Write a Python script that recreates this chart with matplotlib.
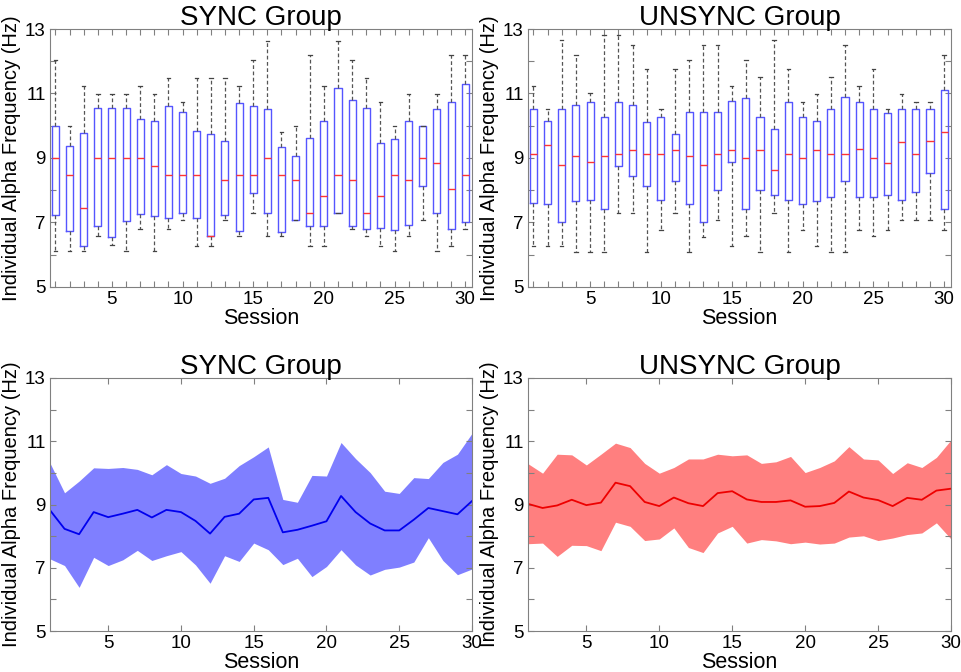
import matplotlib
matplotlib.use('Agg')
import matplotlib.pyplot as plt
import numpy as np

plt.rcParams['font.family'] = ['Liberation Sans', 'DejaVu Sans']

sessions = np.arange(1, 31)

# SYNC group box statistics
sync_whislo = [6.11, 6.11, 6.11, 6.57, 6.29, 6.11, 6.79, 6.11, 6.79, 7.08,
               6.28, 6.28, 7.08, 6.57, 7.31, 6.59, 6.59, 7.08, 6.28, 6.28,
               7.30, 6.81, 6.59, 6.28, 6.11, 6.59, 7.08, 6.11, 6.28, 6.79]
sync_q1 = [7.22, 6.74, 6.28, 6.88, 6.54, 7.04, 7.27, 7.20, 7.13, 7.29,
           7.13, 6.57, 7.22, 6.75, 7.93, 7.30, 6.71, 7.08, 6.88, 6.88,
           7.30, 6.88, 6.79, 6.83, 6.76, 6.92, 8.13, 7.30, 6.79, 7.01]
sync_med = [9.00, 8.47, 7.44, 9.00, 9.00, 9.00, 9.00, 8.76, 8.47, 8.47,
            8.47, 6.57, 8.31, 8.47, 8.47, 9.00, 8.47, 8.32, 7.30, 7.82,
            8.47, 8.32, 7.30, 7.82, 8.47, 8.32, 9.00, 8.86, 8.03, 8.47]
sync_q3 = [9.98, 9.38, 9.79, 10.55, 10.55, 10.55, 10.20, 10.15, 10.61, 10.44,
           9.84, 9.75, 9.53, 10.69, 10.61, 10.51, 9.33, 9.06, 9.62, 10.15,
           11.18, 10.79, 10.54, 9.46, 9.59, 10.15, 9.98, 10.51, 10.73, 11.29]
sync_whishi = [12.04, 9.98, 11.22, 10.99, 10.99, 10.99, 11.22, 10.99, 11.48, 10.74,
               11.48, 11.48, 11.48, 11.22, 12.04, 12.64, 9.80, 9.98, 12.18, 11.23,
               12.64, 12.04, 11.49, 10.75, 9.98, 10.99, 9.98, 10.99, 12.18, 12.18]

# UNSYNC group box statistics
unsync_whislo = [6.27, 6.27, 6.27, 6.09, 6.09, 6.09, 7.30, 7.30, 6.09, 6.78,
                 7.30, 6.09, 6.56, 7.07, 6.27, 6.58, 6.09, 7.30, 6.09, 6.78,
                 6.27, 6.09, 6.09, 6.78, 6.58, 6.78, 7.07, 7.07, 7.07, 6.78]
unsync_q1 = [7.62, 7.56, 7.03, 7.68, 7.70, 7.43, 8.76, 8.45, 8.12, 7.71,
             8.30, 7.56, 7.03, 8.02, 8.89, 7.43, 8.02, 7.85, 7.71, 7.56,
             7.66, 7.78, 8.29, 7.78, 7.78, 7.85, 7.71, 7.94, 8.55, 7.43]
unsync_med = [9.13, 9.41, 8.79, 9.06, 8.89, 9.06, 9.13, 9.26, 9.13, 9.13,
              9.26, 9.06, 8.79, 9.13, 9.26, 9.00, 9.26, 8.62, 9.13, 9.01,
              9.26, 9.13, 9.13, 9.29, 9.01, 8.86, 9.49, 9.13, 9.53, 9.80]
unsync_q3 = [10.52, 10.15, 10.52, 10.63, 10.74, 10.27, 10.74, 10.64, 10.13, 10.26,
             9.74, 10.42, 10.42, 10.42, 10.76, 10.87, 10.26, 9.89, 10.75, 10.26,
             10.15, 10.52, 10.90, 10.74, 10.52, 10.41, 10.52, 10.52, 10.52, 11.10]
unsync_whishi = [11.24, 10.52, 12.66, 12.20, 11.00, 12.81, 12.81, 12.50, 11.76, 10.52,
                 11.76, 12.05, 12.50, 12.50, 11.24, 12.05, 11.50, 12.66, 11.75, 10.75,
                 10.99, 11.50, 12.50, 11.24, 11.75, 10.52, 10.99, 10.75, 10.75, 12.20]

# Bottom panels: mean and spread band
sync_mean = [8.82, 8.23, 8.06, 8.76, 8.60, 8.71, 8.83, 8.59, 8.83, 8.76,
             8.48, 8.08, 8.61, 8.71, 9.16, 9.21, 8.12, 8.20, 8.33, 8.47,
             9.27, 8.76, 8.40, 8.18, 8.18, 8.52, 8.89, 8.79, 8.69, 9.11]
sync_upper = [10.31, 9.37, 9.74, 10.16, 10.14, 10.17, 10.11, 9.94, 10.26, 9.98,
              9.90, 9.67, 9.83, 10.23, 10.51, 10.82, 9.16, 9.07, 9.92, 9.90,
              10.96, 10.45, 10.01, 9.42, 9.35, 9.85, 9.82, 10.33, 10.59, 11.25]
sync_lower = [7.28, 7.07, 6.38, 7.33, 7.07, 7.25, 7.55, 7.23, 7.38, 7.51,
              7.09, 6.51, 7.38, 7.20, 7.78, 7.57, 7.10, 7.30, 6.72, 7.04,
              7.57, 7.09, 6.77, 6.95, 7.02, 7.18, 7.95, 7.23, 6.78, 6.96]

unsync_mean = [9.02, 8.89, 8.97, 9.15, 8.98, 9.06, 9.69, 9.58, 9.08, 8.95,
               9.22, 9.04, 8.95, 9.36, 9.42, 9.16, 9.08, 9.08, 9.13, 8.93,
               8.95, 9.05, 9.41, 9.22, 9.14, 8.95, 9.21, 9.15, 9.44, 9.50]
unsync_upper = [10.29, 9.99, 10.59, 10.57, 10.25, 10.59, 10.94, 10.80, 10.30, 9.99,
                10.17, 10.44, 10.44, 10.59, 10.54, 10.57, 10.30, 10.35, 10.52, 10.01,
                10.17, 10.38, 10.83, 10.44, 10.41, 9.98, 10.32, 10.17, 10.49, 11.04]
unsync_lower = [7.76, 7.78, 7.36, 7.71, 7.70, 7.54, 8.44, 8.31, 7.86, 7.91,
                8.26, 7.64, 7.48, 8.10, 8.31, 7.78, 7.89, 7.85, 7.76, 7.81,
                7.75, 7.78, 7.97, 8.01, 7.86, 7.94, 8.05, 8.10, 8.42, 7.91]

ylabel = 'Individual Alpha Frequency (Hz)'
spine_col = '#808080'


def style_axes(ax, minor_x):
    ax.set_ylim(5, 13)
    ax.set_yticks(np.arange(5, 14, 1))
    ax.set_yticklabels([str(v) if v % 2 == 1 else '' for v in range(5, 14)])
    if minor_x:
        ax.set_xticks(sessions)
        ax.set_xticklabels([str(s) if s % 5 == 0 else '' for s in sessions])
    else:
        ax.set_xticks([5, 10, 15, 20, 25, 30])
    ax.tick_params(direction='in', top=True, right=True, length=4,
                   color=spine_col, labelsize=13.5, pad=3)
    for sp in ax.spines.values():
        sp.set_color(spine_col)
    ax.set_xlabel('Session', fontsize=15.5, labelpad=0)
    ax.set_ylabel(ylabel, fontsize=14.5, labelpad=3)


def box_panel(ax, title, lo, q1, med, q3, hi):
    stats = []
    for i in range(len(sessions)):
        stats.append({'whislo': lo[i], 'q1': q1[i], 'med': med[i],
                      'q3': q3[i], 'whishi': hi[i], 'fliers': []})
    ax.bxp(stats, positions=sessions, widths=0.5, showfliers=False,
           boxprops=dict(color='#5555ff', linewidth=1.0),
           medianprops=dict(color='#ff3333', linewidth=1.0),
           whiskerprops=dict(color='#555555', linestyle=(0, (3, 2)), linewidth=0.9),
           capprops=dict(color='#444444', linewidth=0.9), capwidths=0.25,
           manage_ticks=False)
    ax.set_xlim(0.62, 30.48)
    style_axes(ax, True)
    ax.set_title(title, fontsize=20, pad=3)


def band_panel(ax, title, mean, lower, upper, fill_col, line_col):
    ax.fill_between(sessions, lower, upper, color=fill_col, linewidth=0)
    ax.plot(sessions, mean, color=line_col, linewidth=1.3)
    ax.set_xlim(1, 30)
    style_axes(ax, False)
    ax.set_title(title, fontsize=20, pad=3)


fig = plt.figure(figsize=(9.61, 6.72), dpi=100)
W, H = 961, 672
ax1 = fig.add_axes([50 / W, 1 - 287 / H, 422 / W, 258 / H])
ax2 = fig.add_axes([528 / W, 1 - 287 / H, 423 / W, 258 / H])
ax3 = fig.add_axes([50 / W, 1 - 631 / H, 422 / W, 253 / H])
ax4 = fig.add_axes([528 / W, 1 - 631 / H, 423 / W, 253 / H])

box_panel(ax1, 'SYNC Group', sync_whislo, sync_q1, sync_med, sync_q3, sync_whishi)
box_panel(ax2, 'UNSYNC Group', unsync_whislo, unsync_q1, unsync_med, unsync_q3, unsync_whishi)
band_panel(ax3, 'SYNC Group', sync_mean, sync_lower, sync_upper, '#7f7fff', '#0000ee')
band_panel(ax4, 'UNSYNC Group', unsync_mean, unsync_lower, unsync_upper, '#ff7f7f', '#ee0000')

fig.savefig('out.png', dpi=100)
